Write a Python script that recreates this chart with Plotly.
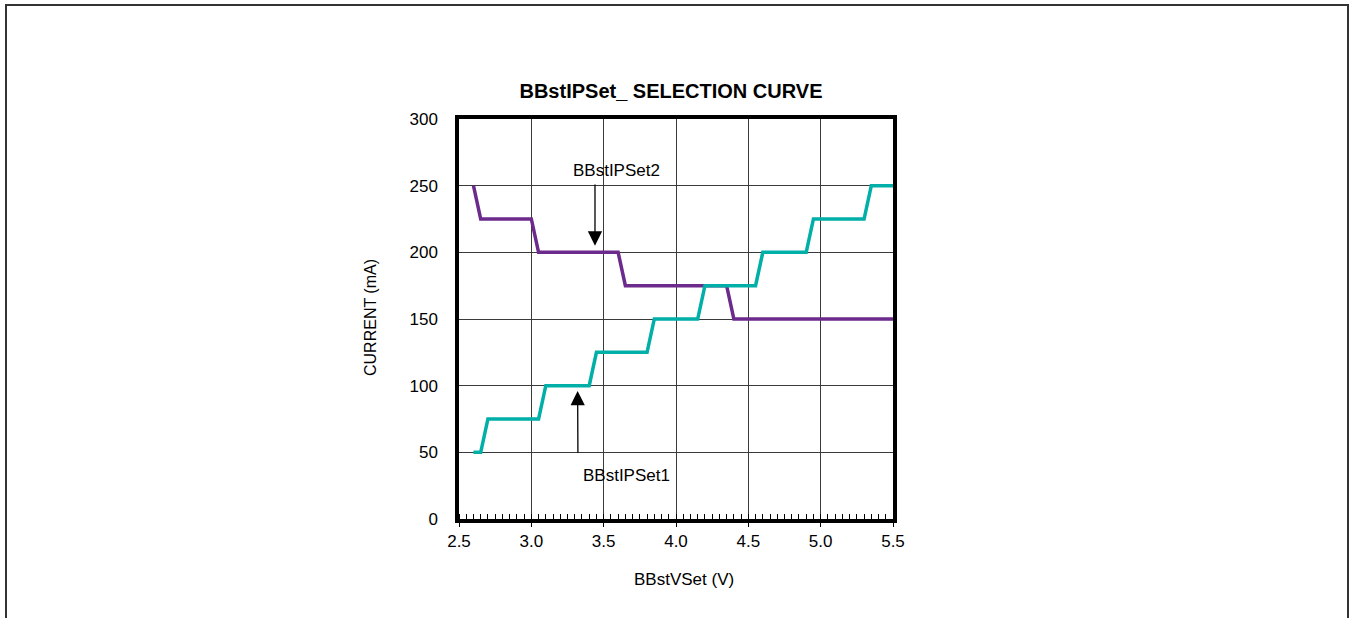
import plotly.graph_objects as go

# Data
set2_v = [2.6, 2.65, 3.0, 3.05, 3.6, 3.65, 4.35, 4.4, 5.5]
set2_i = [250, 225, 225, 200, 200, 175, 175, 150, 150]

set1_v = [2.6, 2.65, 2.7, 3.05, 3.1, 3.4, 3.45, 3.8, 3.85, 4.15, 4.2, 4.55, 4.6, 4.9, 4.95, 5.3, 5.35, 5.5]
set1_i = [50, 50, 75, 75, 100, 100, 125, 125, 150, 150, 175, 175, 200, 200, 225, 225, 250, 250]

x_ticks = [2.5, 3.0, 3.5, 4.0, 4.5, 5.0, 5.5]
x_labels = ["2.5", "3.0", "3.5", "4.0", "4.5", "5.0", "5.5"]
y_ticks = [0, 50, 100, 150, 200, 250, 300]

TEAL = "#00AFA8"
PURPLE = "#6C2A8C"
FONT = "Liberation Sans, Arial, sans-serif"

W, H = 1350, 618
L, T = 459, 119
pw, ph = 434, 400
R, B = W - L - pw, H - T - ph

# convert page pixel coords to paper fractions
def px(xp):
    return (xp - L) / pw

def py(yp):
    return (T + ph - yp) / ph

fig = go.Figure()
fig.add_trace(go.Scatter(x=set2_v, y=set2_i, mode="lines",
                         line=dict(color=PURPLE, width=3.5), name="BBstIPSet2",
                         showlegend=False))
fig.add_trace(go.Scatter(x=set1_v, y=set1_i, mode="lines",
                         line=dict(color=TEAL, width=3.5), name="BBstIPSet1",
                         showlegend=False))

axis_common = dict(showline=True, linecolor="black", linewidth=3.5, mirror=True,
                   showgrid=True, gridcolor="#3a3a3a", gridwidth=1, zeroline=False,
                   tickfont=dict(family=FONT, size=17, color="black"))

fig.update_xaxes(range=[2.5, 5.5], tickvals=x_ticks, ticktext=x_labels,
                 ticks="outside", ticklen=4, tickcolor="black", tickwidth=1,
                 minor=dict(dtick=0.05, tick0=2.5, ticks="inside", ticklen=5,
                            tickcolor="black", tickwidth=1, showgrid=False),
                 **axis_common)
fig.update_yaxes(range=[0, 300], tickvals=y_ticks, ticks="", ticklabelstandoff=14,
                 **axis_common)

ann_font = dict(family=FONT, size=17, color="black")
# axis titles
fig.add_annotation(xref="paper", yref="paper", x=px(684), y=py(579), text="BBstVSet (V)",
                   showarrow=False, xanchor="center", yanchor="middle", font=ann_font)
fig.add_annotation(xref="paper", yref="paper", x=px(370), y=py(318), text="CURRENT (mA)",
                   textangle=-90, showarrow=False, xanchor="center", yanchor="middle",
                   font=dict(family=FONT, size=16, color="black"))
# series labels
fig.add_annotation(x=3.592, y=261.75, text="BBstIPSet2", showarrow=False, font=ann_font)
fig.add_annotation(x=3.661, y=33, text="BBstIPSet1", showarrow=False, font=ann_font)
fig.add_annotation(x=3.44, y=205, ax=3.44, ay=252, axref="x", ayref="y", text="",
                   showarrow=True, arrowhead=2, arrowsize=2.2, arrowwidth=1.3, arrowcolor="black")
fig.add_annotation(x=3.32, y=96, ax=3.322, ay=48.5, axref="x", ayref="y", text="",
                   showarrow=True, arrowhead=2, arrowsize=2.2, arrowwidth=1.3, arrowcolor="black")

# outer frame
fig.add_shape(type="rect", xref="paper", yref="paper",
              x0=px(6), x1=px(1348), y0=py(640), y1=py(5),
              line=dict(color="#333333", width=2), fillcolor="rgba(0,0,0,0)", layer="below")

fig.update_layout(
    width=W, height=H,
    margin=dict(l=L, r=R, t=T, b=B),
    paper_bgcolor="white", plot_bgcolor="white",
    title=dict(text="<b>BBstIPSet_ SELECTION CURVE</b>", xref="paper", x=px(671), xanchor="center",
               yref="container", y=1 - 91 / H, yanchor="middle",
               font=dict(family=FONT, size=20, color="black")),
    showlegend=False,
)

fig.write_html("out.html", config={"displayModeBar": False},
               post_script="document.body.style.margin='0';document.body.style.overflow='hidden';")
